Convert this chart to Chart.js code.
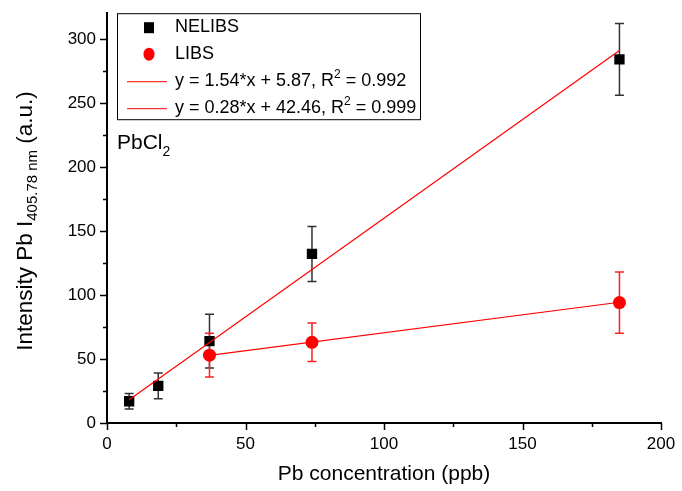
<!DOCTYPE html>
<html>
<head>
<meta charset="utf-8">
<script src="https://cdn.jsdelivr.net/npm/chart.js@4.4.1/dist/chart.umd.min.js"></script>
<style>
html, body { margin: 0; padding: 0; background: #fff; }
#wrap { width: 682px; height: 491px; }
</style>
</head>
<body>
<div id="wrap"><canvas id="myChart"></canvas></div>
<script>
// Pb concentration (ppb) and intensity (a.u.)
var nelibsX = [8, 18.5, 37, 74, 185];
var nelibsY = [17, 29, 64, 132, 284];
var nelibsErr = [6, 10, 21, 21.5, 28];

var libsX = [37, 74, 185];
var libsY = [53, 63, 94];
var libsErr = [17, 15, 24];

// linear fit end points
var fitNelibsX = [8, 185];
var fitNelibsY = [18.2, 290.8];
var fitLibsX = [37, 185];
var fitLibsY = [52.8, 94.3];

var xMax = 200;
var yMax = 320;

var FONT = '"Liberation Sans", Arial, sans-serif';

function toPoints(xs, ys) {
  var pts = [];
  for (var i = 0; i < xs.length; i++) pts.push({ x: xs[i], y: ys[i] });
  return pts;
}

// draws text pieces, some of them sub/superscript
function drawParts(ctx, parts, x, y, size, align) {
  var small = Math.round(size * 0.66);
  var total = 0;
  parts.forEach(function (p) {
    ctx.font = (p.sub || p.sup ? small : size) + 'px ' + FONT;
    p.w = ctx.measureText(p.t).width;
    total += p.w;
  });
  var cx = align === 'center' ? x - total / 2 : x;
  parts.forEach(function (p) {
    ctx.font = (p.sub || p.sup ? small : size) + 'px ' + FONT;
    var dy = p.sub ? size * 0.3 : (p.sup ? -size * 0.35 : 0);
    ctx.fillText(p.t, cx, y + dy);
    cx += p.w;
  });
}

var errorBars = {
  id: 'errorBars',
  beforeDatasetsDraw(chart) {
    var ctx = chart.ctx, xs = chart.scales.x, ys = chart.scales.y;
    var sets = [
      { x: nelibsX, y: nelibsY, e: nelibsErr, c: '#333333' },
      { x: libsX, y: libsY, e: libsErr, c: '#ff2020' }
    ];
    ctx.save();
    ctx.lineWidth = 1.5;
    sets.forEach(function (s) {
      ctx.strokeStyle = s.c;
      for (var i = 0; i < s.x.length; i++) {
        var px = xs.getPixelForValue(s.x[i]);
        var top = ys.getPixelForValue(s.y[i] + s.e[i]);
        var bot = ys.getPixelForValue(s.y[i] - s.e[i]);
        ctx.beginPath();
        ctx.moveTo(px, top); ctx.lineTo(px, bot);
        ctx.moveTo(px - 4.5, top); ctx.lineTo(px + 4.5, top);
        ctx.moveTo(px - 4.5, bot); ctx.lineTo(px + 4.5, bot);
        ctx.stroke();
      }
    });
    ctx.restore();
  }
};

var decor = {
  id: 'decor',
  afterDraw(chart) {
    var ctx = chart.ctx, a = chart.chartArea, xs = chart.scales.x, ys = chart.scales.y;
    ctx.save();
    // tick marks, major and minor
    ctx.strokeStyle = '#000';
    ctx.lineWidth = 1.5;
    ctx.beginPath();
    xs.ticks.forEach(function (t) {
      var px = Math.round(xs.getPixelForValue(t.value)) + 0.5;
      var len = t.value % 50 === 0 ? 7 : 4;
      ctx.moveTo(px, a.bottom); ctx.lineTo(px, a.bottom + len);
    });
    ys.ticks.forEach(function (t) {
      var py = Math.round(ys.getPixelForValue(t.value)) + 0.5;
      var len = t.value % 50 === 0 ? 7 : 4;
      ctx.moveTo(a.left, py); ctx.lineTo(a.left - len, py);
    });
    ctx.stroke();

    // y axis title with subscript
    ctx.fillStyle = '#000';
    ctx.textBaseline = 'middle';
    ctx.textAlign = 'left';
    ctx.translate(26, 221);
    ctx.rotate(-Math.PI / 2);
    drawParts(ctx, [
      { t: 'Intensity Pb I' },
      { t: '405.78 nm', sub: true },
      { t: ' (a.u.)' }
    ], 0, 0, 22.5, 'center');
    ctx.setTransform(1, 0, 0, 1, 0, 0);

    // sample label
    ctx.textBaseline = 'alphabetic';
    drawParts(ctx, [{ t: 'PbCl' }, { t: '2', sub: true }], a.left + 10, a.top + 136, 21, 'left');
    ctx.textBaseline = 'middle';

    // legend box
    var lx = a.left + 10, ly = a.top, lw = 303, lh = 106;
    ctx.strokeStyle = '#000';
    ctx.lineWidth = 1;
    ctx.strokeRect(lx + 0.5, ly + 0.5, lw, lh);
    var rows = [ly + 14, ly + 41, ly + 68, ly + 95];
    var tx = lx + 58;
    // square marker
    ctx.fillStyle = '#000';
    ctx.fillRect(lx + 27, rows[0] - 5, 10, 11);
    // circle marker
    ctx.fillStyle = '#ff0000';
    ctx.beginPath();
    ctx.ellipse(lx + 32, rows[1], 5.5, 6.5, 0, 0, Math.PI * 2);
    ctx.fill();
    // fit lines
    ctx.strokeStyle = '#ff0000';
    ctx.beginPath();
    ctx.moveTo(lx + 10, rows[2] + 0.5); ctx.lineTo(lx + 50, rows[2] + 0.5);
    ctx.moveTo(lx + 10, rows[3] + 0.5); ctx.lineTo(lx + 50, rows[3] + 0.5);
    ctx.stroke();
    ctx.fillStyle = '#000';
    drawParts(ctx, [{ t: 'NELIBS' }], tx, rows[0], 18, 'left');
    drawParts(ctx, [{ t: 'LIBS' }], tx, rows[1], 18, 'left');
    drawParts(ctx, [{ t: 'y = 1.54*x + 5.87, R' }, { t: '2', sup: true }, { t: ' = 0.992' }], tx, rows[2], 18, 'left');
    drawParts(ctx, [{ t: 'y = 0.28*x + 42.46, R' }, { t: '2', sup: true }, { t: ' = 0.999' }], tx, rows[3], 18, 'left');
    ctx.restore();
  }
};

var ctx = document.getElementById('myChart').getContext('2d');
var myChart = new Chart(ctx, {
  type: 'scatter',
  data: {
    datasets: [
      {
        label: 'fit NELIBS',
        data: toPoints(fitNelibsX, fitNelibsY),
        showLine: true,
        borderColor: '#ff0000',
        borderWidth: 1.2,
        pointRadius: 0
      },
      {
        label: 'fit LIBS',
        data: toPoints(fitLibsX, fitLibsY),
        showLine: true,
        borderColor: '#ff0000',
        borderWidth: 1.2,
        pointRadius: 0
      },
      {
        label: 'NELIBS',
        data: toPoints(nelibsX, nelibsY),
        pointStyle: 'rect',
        pointRadius: 7.3,
        backgroundColor: '#000',
        borderColor: '#000',
        borderWidth: 0
      },
      {
        label: 'LIBS',
        data: toPoints(libsX, libsY),
        pointStyle: 'circle',
        pointRadius: 6.5,
        backgroundColor: '#ff0000',
        borderColor: '#ff0000',
        borderWidth: 0
      }
    ]
  },
  options: {
    responsive: true,
    maintainAspectRatio: false,
    animation: false,
    layout: { padding: { left: 0, right: 21, top: 12, bottom: 0 } },
    plugins: {
      legend: { display: false },
      tooltip: { enabled: false }
    },
    scales: {
      x: {
        type: 'linear',
        min: 0,
        max: xMax,
        afterFit: function (axis) { axis.height = 68; },
        grid: { drawOnChartArea: false, color: 'transparent', tickLength: 7 },
        border: { display: true, color: '#000', width: 2 },
        ticks: {
          stepSize: 25,
          padding: 4,
          maxRotation: 0,
          color: '#000',
          font: { family: FONT, size: 17 },
          callback: function (v) { return v % 50 === 0 ? v : ''; }
        },
        title: {
          display: true,
          text: 'Pb concentration (ppb)',
          color: '#000',
          font: { family: FONT, size: 21 },
          padding: { top: 0, bottom: 4 },
          align: 'center'
        }
      },
      y: {
        type: 'linear',
        min: 0,
        max: yMax,
        afterFit: function (axis) { axis.width = 107; },
        afterBuildTicks: function (axis) {
          axis.ticks = axis.ticks.filter(function (t) { return t.value % 25 === 0; });
        },
        grid: { drawOnChartArea: false, color: 'transparent', tickLength: 8 },
        border: { display: true, color: '#000', width: 2 },
        ticks: {
          stepSize: 25,
          padding: 3,
          color: '#000',
          font: { family: FONT, size: 17 },
          callback: function (v) { return v % 50 === 0 ? v : ''; }
        }
      }
    }
  },
  plugins: [errorBars, decor]
});
</script>
</body>
</html>
